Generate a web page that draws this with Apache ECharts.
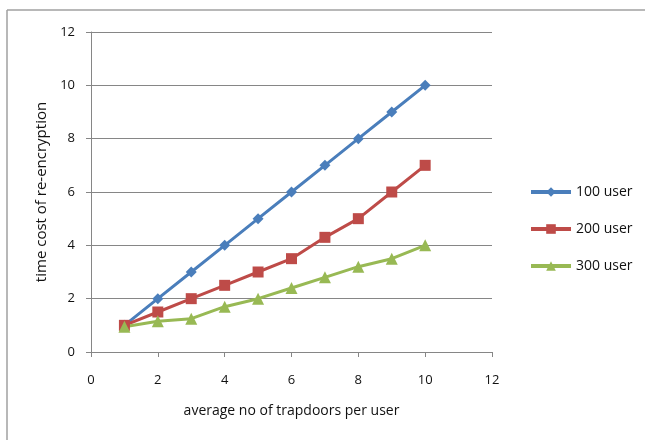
<!DOCTYPE html>
<html>
<head>
<meta charset="utf-8">
<script src="https://cdn.jsdelivr.net/npm/echarts@6/dist/echarts.min.js"></script>
<style>
  html, body { margin: 0; padding: 0; background: #fff; }
  #chart { width: 645px; height: 440px; }
</style>
</head>
<body>
<div id="chart"></div>
<script>
const xValues = [1, 2, 3, 4, 5, 6, 7, 8, 9, 10]
const user100 = [1, 2, 3, 4, 5, 6, 7, 8, 9, 10]
const user200 = [1, 1.5, 2, 2.5, 3, 3.5, 4.3, 5, 6, 7]
const user300 = [0.95, 1.15, 1.25, 1.7, 2, 2.4, 2.8, 3.2, 3.5, 4]
const seriesNames = ['100 user', '200 user', '300 user']

const font = 'Open Sans'
const axisGray = '#868686'
const textColor = '#111'

const pairs = (ys) => xValues.map((x, i) => [x, ys[i]])

const chart = echarts.init(document.getElementById('chart'))
chart.setOption({
  animation: false,
  textStyle: { fontFamily: font },
  graphic: [
    { type: 'line', shape: { x1: 7, y1: 10, x2: 645, y2: 10 }, style: { stroke: '#a0a0a0', lineWidth: 1.5 } },
    { type: 'line', shape: { x1: 7, y1: 10, x2: 7, y2: 440 }, style: { stroke: '#a0a0a0', lineWidth: 1.5 } }
  ],
  grid: { left: 91, right: 153, top: 32, bottom: 88 },
  legend: {
    orient: 'vertical',
    left: 524,
    top: 180,
    itemGap: 23,
    itemWidth: 40,
    itemHeight: 12,
    lineStyle: { width: 4 },
    textStyle: { fontFamily: font, fontSize: 14, color: textColor },
    data: seriesNames
  },
  xAxis: {
    type: 'value',
    min: 0,
    max: 12,
    interval: 2,
    name: 'average no of trapdoors per user',
    nameLocation: 'middle',
    nameGap: 52,
    nameTextStyle: { fontFamily: font, fontSize: 14, color: textColor },
    axisLine: { lineStyle: { color: axisGray } },
    axisTick: { show: true, length: 5, lineStyle: { color: axisGray } },
    axisLabel: { color: textColor, fontSize: 13, margin: 22 },
    splitLine: { show: false }
  },
  yAxis: {
    type: 'value',
    min: 0,
    max: 12,
    interval: 2,
    name: 'time cost of re-encryption',
    nameLocation: 'middle',
    nameGap: 40,
    nameTextStyle: { fontFamily: font, fontSize: 15, color: textColor },
    axisLine: { show: true, lineStyle: { color: axisGray } },
    axisTick: { show: true, length: 5, lineStyle: { color: axisGray } },
    axisLabel: { color: textColor, fontSize: 13, margin: 16 },
    splitLine: { lineStyle: { color: axisGray } }
  },
  series: [
    {
      name: seriesNames[0],
      type: 'line',
      data: pairs(user100),
      symbol: 'diamond',
      symbolSize: 11,
      color: '#4a7ebb',
      lineStyle: { width: 3 }
    },
    {
      name: seriesNames[1],
      type: 'line',
      data: pairs(user200),
      symbol: 'rect',
      symbolSize: 11,
      color: '#be4b48',
      lineStyle: { width: 3 }
    },
    {
      name: seriesNames[2],
      type: 'line',
      data: pairs(user300),
      symbol: 'triangle',
      symbolSize: 12,
      color: '#98b954',
      lineStyle: { width: 3 }
    }
  ]
})
</script>
</body>
</html>
